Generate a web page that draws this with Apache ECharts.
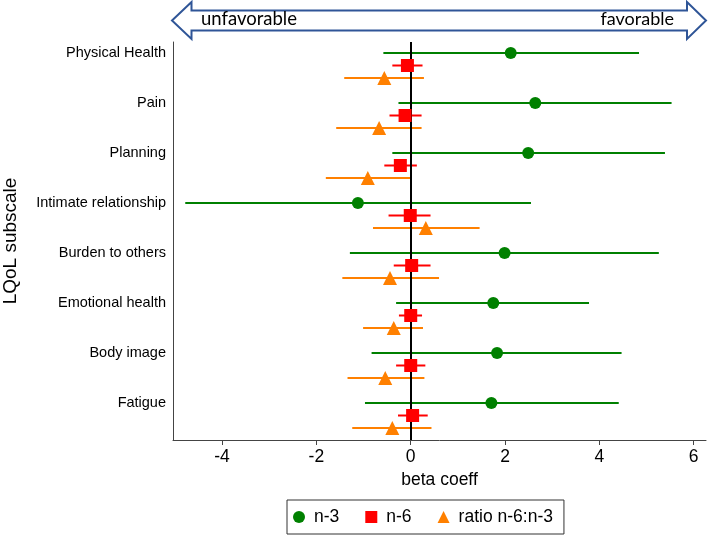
<!DOCTYPE html>
<html>
<head>
<meta charset="utf-8">
<script src="https://cdn.jsdelivr.net/npm/echarts@6/dist/echarts.min.js"></script>
<style>
html,body{margin:0;padding:0;background:#fff;}
#chart{width:709px;height:536px;}
</style>
</head>
<body>
<div id="chart"></div>
<script>
const categories = ['Physical Health','Pain','Planning','Intimate relationship','Burden to others','Emotional health','Body image','Fatigue'];
const n3 = [2.12, 2.64, 2.49, -1.12, 1.99, 1.75, 1.83, 1.71];
const n3Lo = [-0.58, -0.26, -0.39, -4.78, -1.29, -0.31, -0.83, -0.97];
const n3Hi = [4.84, 5.53, 5.39, 2.55, 5.26, 3.78, 4.47, 4.41];
const n6 = [-0.07, -0.12, -0.22, -0.01, 0.02, 0.00, 0.00, 0.04];
const n6Lo = [-0.39, -0.45, -0.56, -0.47, -0.36, -0.25, -0.31, -0.27];
const n6Hi = [0.25, 0.23, 0.13, 0.42, 0.42, 0.24, 0.31, 0.36];
const ratio = [-0.56, -0.67, -0.91, 0.32, -0.44, -0.36, -0.54, -0.39];
const ratioLo = [-1.41, -1.58, -1.80, -0.80, -1.45, -1.01, -1.34, -1.24];
const ratioHi = [0.28, 0.23, 0.00, 1.46, 0.60, 0.26, 0.29, 0.44];
const xTicks = [-4, -2, 0, 2, 4, 6];
const seriesNames = ['n-3', 'n-6', 'ratio n-6:n-3'];

const FONT = '"Liberation Sans", Arial, sans-serif';
const colors = ['#008000', '#FF0000', '#FF8000'];
const rowOffset = [0, 0.25, 0.5];
const nCat = categories.length;
const catY = i => nCat - i;

function pts(vals, k) { return vals.map((v, i) => [v, catY(i) - rowOffset[k]]); }
function bars(lo, hi, k) { return lo.map((v, i) => [v, hi[i], catY(i) - rowOffset[k]]); }

function errSeries(lo, hi, k) {
  return {
    type: 'custom', z: 2, silent: true,
    data: bars(lo, hi, k),
    encode: { x: [0, 1], y: 2 },
    renderItem: function (params, api) {
      const p1 = api.coord([api.value(0), api.value(2)]);
      const p2 = api.coord([api.value(1), api.value(2)]);
      return { type: 'line', shape: { x1: p1[0], y1: p1[1], x2: p2[0], y2: p2[1] },
        style: { stroke: colors[k], lineWidth: 2 } };
    }
  };
}

const chart = echarts.init(document.getElementById('chart'), null, { renderer: 'canvas' });
const labelMap = {};
categories.forEach((c, i) => { labelMap[catY(i)] = c; });

chart.setOption({
  animation: false,
  textStyle: { fontFamily: FONT },
  grid: { left: 173, right: 3, top: 42, bottom: 96, containLabel: false, outerBoundsMode: 'none' },
  xAxis: {
    type: 'value', min: -5.04, max: 6.26,
    name: 'beta coeff', nameLocation: 'middle', nameGap: 31,
    nameTextStyle: { fontSize: 17.5, color: '#000', fontFamily: FONT },
    axisLine: { show: true, onZero: false, lineStyle: { color: '#444', width: 1 } },
    axisTick: { show: true, length: 5, lineStyle: { color: '#444' }, customValues: xTicks },
    axisLabel: { fontSize: 17.5, color: '#000', margin: 8, customValues: xTicks, fontFamily: FONT },
    splitLine: { show: false }
  },
  yAxis: {
    type: 'value', min: 0.26, max: 8.22,
    name: 'LQoL subscale', nameLocation: 'middle', nameGap: 153, nameRotate: 90,
    nameTextStyle: { fontSize: 19, color: '#000', fontFamily: FONT },
    axisLine: { show: true, onZero: false, lineStyle: { color: '#444', width: 1 } },
    axisTick: { show: false },
    axisLabel: { fontSize: 14.5, color: '#000', margin: 7, fontFamily: FONT,
      customValues: categories.map((c, i) => catY(i)),
      formatter: v => labelMap[Math.round(v)] || '' },
    splitLine: { show: false }
  },
  legend: {
    left: 287, top: 500, width: 279,
    padding: [8, 11, 8, 6], itemGap: 26,
    borderColor: '#333', borderWidth: 1,
    itemWidth: 12, itemHeight: 12,
    textStyle: { fontSize: 17.5, color: '#000', fontFamily: FONT, padding: [0, 0, 0, 4] },
    data: [
      { name: seriesNames[0], icon: 'circle' },
      { name: seriesNames[1], icon: 'rect' },
      { name: seriesNames[2], icon: 'triangle' }
    ]
  },
  graphic: [
    {
      type: 'polygon', z: 10,
      shape: { points: [[172, 20.5], [191.5, 2], [191.5, 10.5], [687, 10.5], [687, 2], [706, 20.5], [687, 39], [687, 30.5], [191.5, 30.5], [191.5, 39]] },
      style: { fill: '#fff', stroke: '#2F5597', lineWidth: 2 }
    },
    { type: 'text', z: 11, left: 201, top: 10, style: { text: 'unfavorable', fontSize: 18.5, fontFamily: 'Lato, "Open Sans", sans-serif', fill: '#000' } },
    { type: 'text', z: 11, right: 35, top: 10, style: { text: 'favorable', fontSize: 18, fontFamily: 'Lato, "Open Sans", sans-serif', fill: '#000' } }
  ],
  series: [
    errSeries(n3Lo, n3Hi, 0),
    errSeries(n6Lo, n6Hi, 1),
    errSeries(ratioLo, ratioHi, 2),
    {
      type: 'line', data: [], z: 3, silent: true,
      markLine: { symbol: 'none', silent: true, label: { show: false },
        lineStyle: { color: '#000', width: 2, type: 'solid' }, data: [{ xAxis: 0 }] }
    },
    { name: seriesNames[0], type: 'scatter', z: 5, symbol: 'circle', symbolSize: 12, itemStyle: { color: colors[0], opacity: 1 }, data: pts(n3, 0) },
    { name: seriesNames[1], type: 'scatter', z: 5, symbol: 'rect', symbolSize: 13, itemStyle: { color: colors[1], opacity: 1 }, data: pts(n6, 1) },
    { name: seriesNames[2], type: 'scatter', z: 5, symbol: 'triangle', symbolSize: 14, itemStyle: { color: colors[2], opacity: 1 }, data: pts(ratio, 2) }
  ]
});
</script>
</body>
</html>
